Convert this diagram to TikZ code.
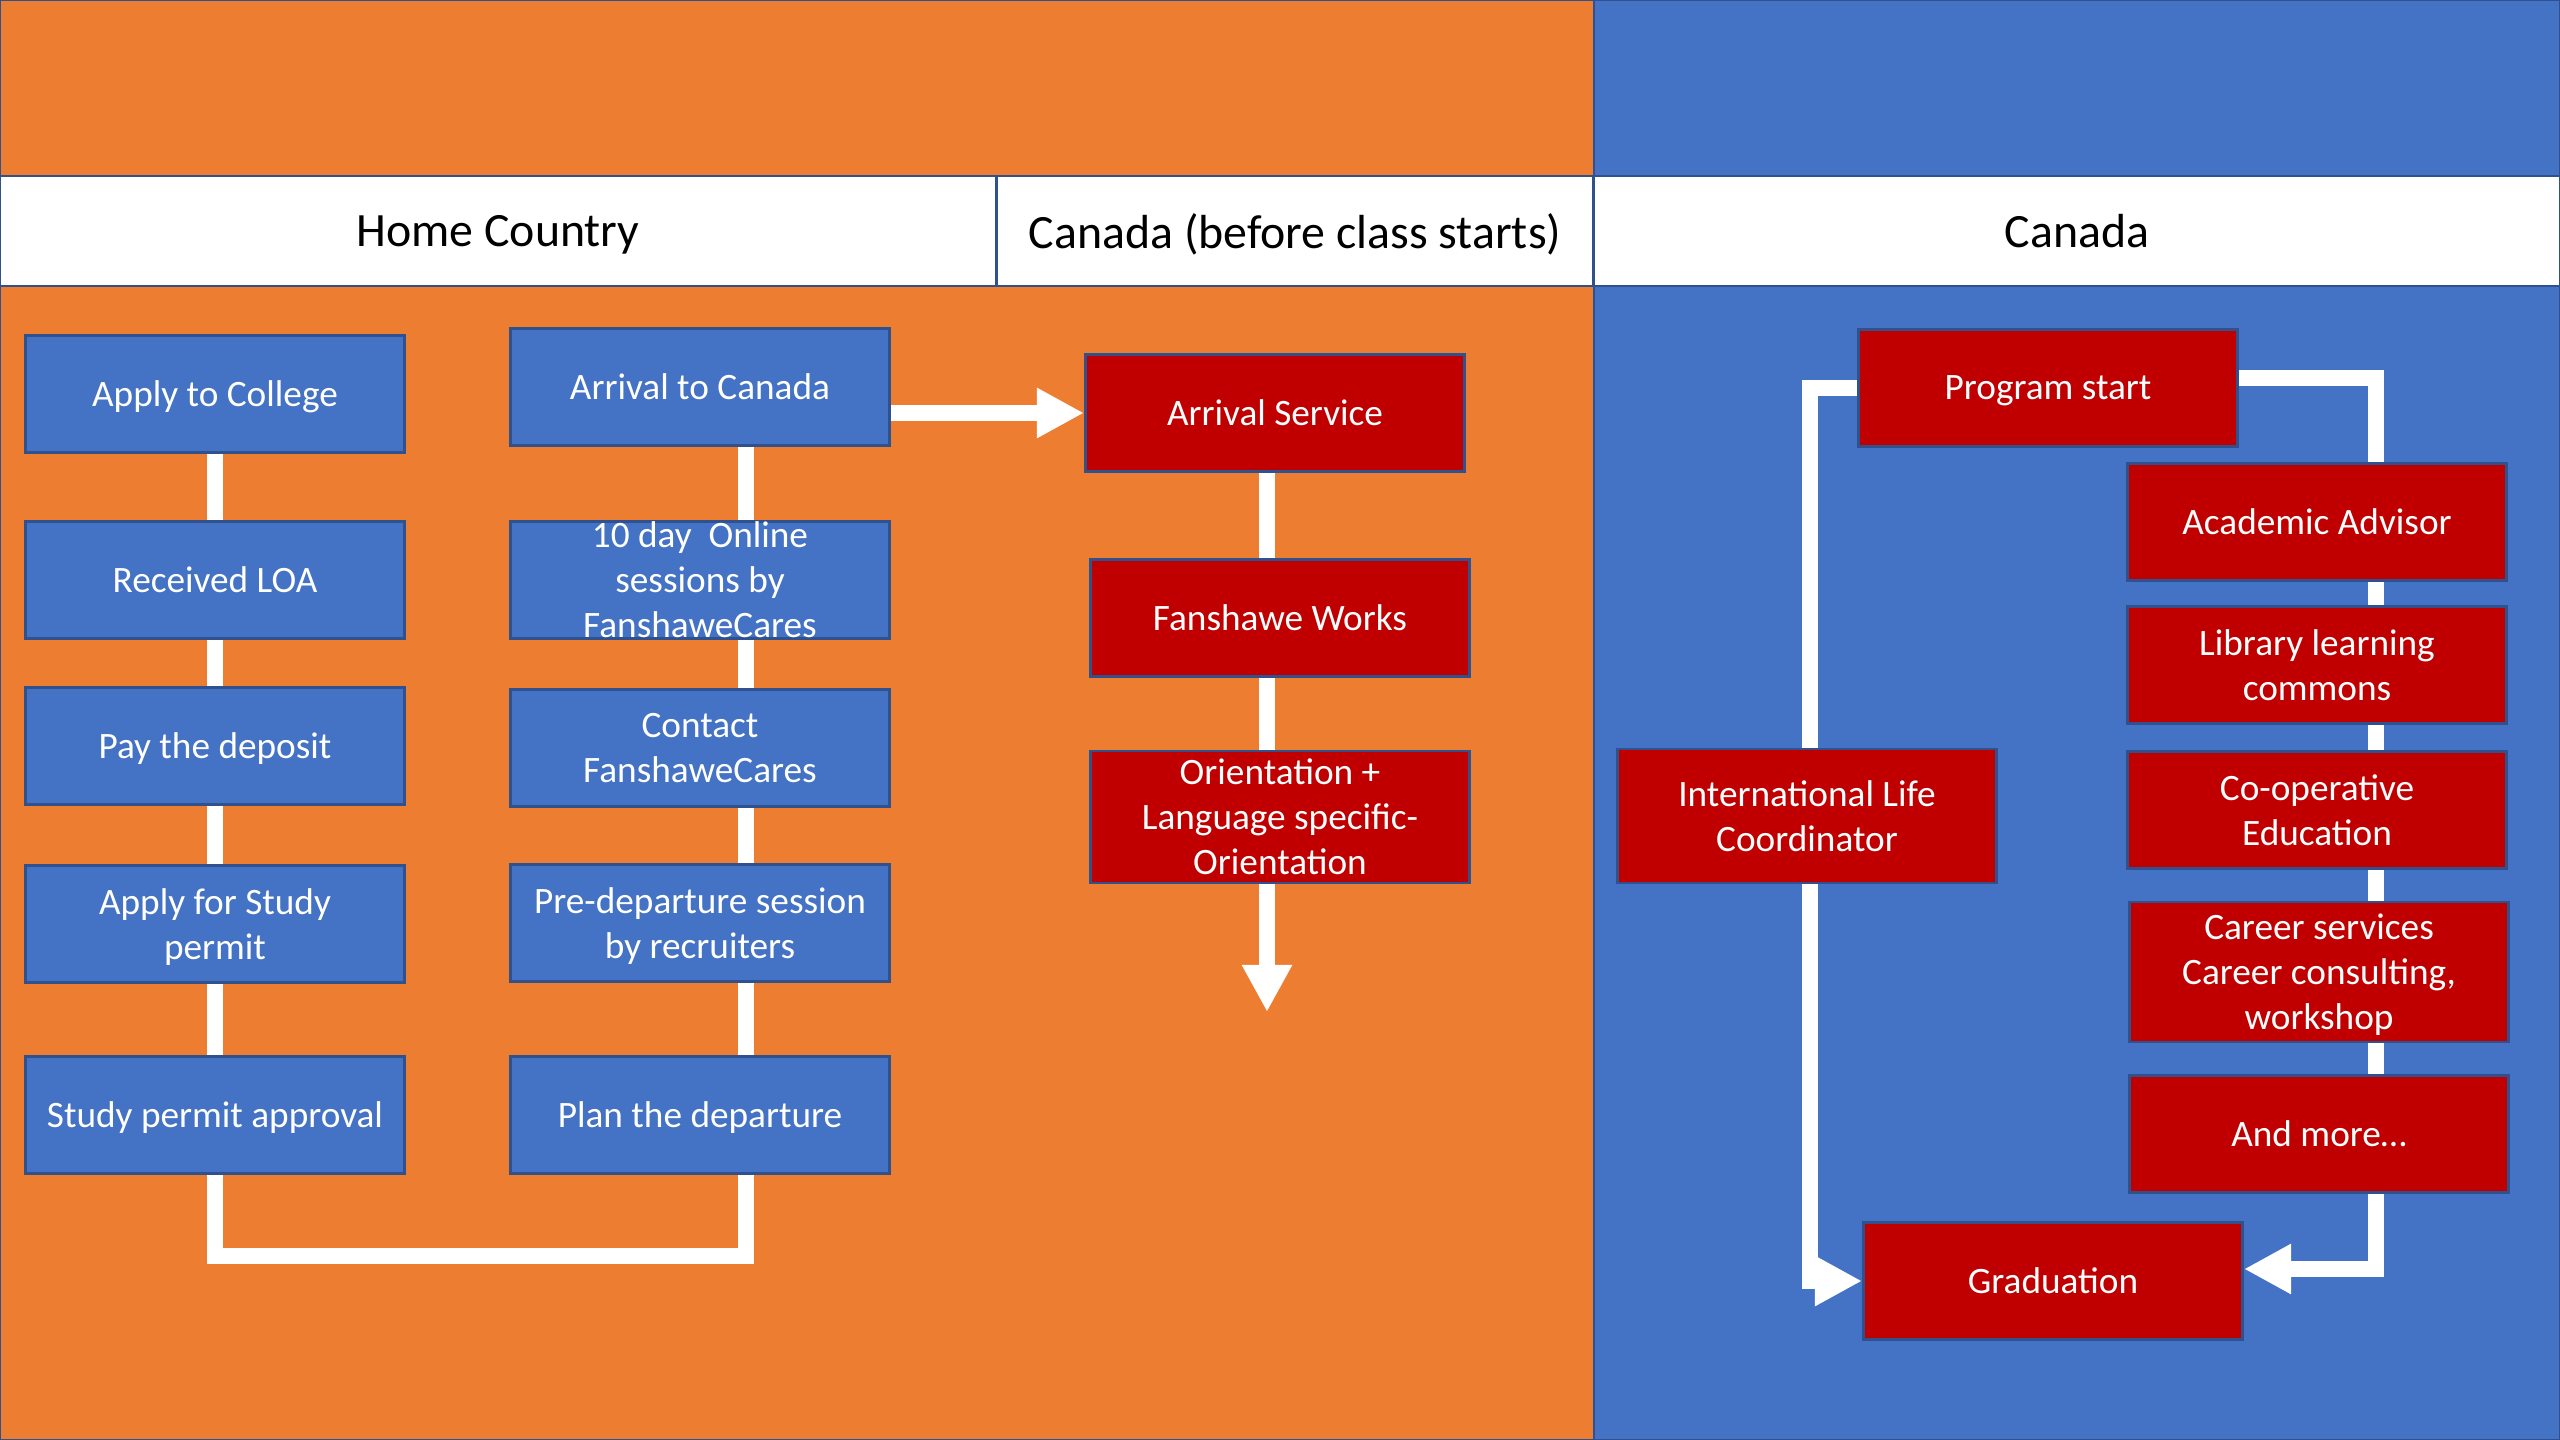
\documentclass[tikz,border=0pt]{standalone}
\usepackage{fontspec}
\setmainfont{Carlito}
\usepackage[]{xcolor}
\usetikzlibrary{arrows.meta,backgrounds}

\definecolor{fanorange}{HTML}{ED7D31}
\definecolor{fanblue}{HTML}{4472C4}
\definecolor{fanred}{HTML}{C00000}
\definecolor{edgeblue}{HTML}{2F528F}

\begin{document}
\begin{tikzpicture}[
            x=0.01cm, y=-0.01cm,
            header/.style={rectangle, draw=edgeblue, line width=0.8pt, fill=white, inner sep=0pt, minimum height=1.10cm, text depth=0pt, font=\fontsize{13.6}{16}\selectfont},
            bluestep/.style={rectangle, draw=edgeblue, line width=0.8pt, fill=fanblue, text=white, minimum width=3.79cm, minimum height=1.176cm, inner sep=0pt, align=center, text depth=0pt, font=\fontsize{10.6}{12.8}\selectfont},
            redstep/.style={bluestep, fill=fanred},
            link/.style={draw=white, line width=4.6pt},
            arrow/.style={link, -{Triangle[length=13.4pt, width=13.4pt]}}
        ]
            \useasboundingbox (0,0) rectangle (2560,1440);
            \begin{scope}[on background layer]
                \path[draw=edgeblue, line width=0.8pt, fill=fanorange] (0,0) rectangle (1594,1440);
                \path[draw=edgeblue, line width=0.8pt, fill=fanblue] (1594,0) rectangle (2560,1440);
            \end{scope}

            % headers
            \node[header, minimum width=9.96cm] (home) at (498,231) {Home Country};
            \node[header, minimum width=5.96cm] (before) at (1295,231) {Canada (before class starts)};
            \node[header, minimum width=9.66cm] (canada) at (2077,231) {Canada};

            % home country
            \node[bluestep] (apply) at (215,394) {Apply to College};
            \node[bluestep] (loa) at (215,580) {Received LOA};
            \node[bluestep] (deposit) at (215,746) {Pay the deposit};
            \node[bluestep] (permit) at (215,924) {Apply for Study\\permit};
            \node[bluestep] (approval) at (215,1115) {Study permit approval};

            \node[bluestep] (arrive) at (700,387) {Arrival to Canada};
            \node[bluestep] (online) at (700,580) {10 day~ Online\\sessions by\\FanshaweCares};
            \node[bluestep] (contact) at (700,748) {Contact\\FanshaweCares};
            \node[bluestep] (predep) at (700,923) {Pre-departure session\\by recruiters};
            \node[bluestep] (plan) at (700,1115) {Plan the departure};

            % before class starts
            \node[redstep] (arrsvc) at (1275,413) {Arrival Service};
            \node[redstep] (works) at (1280,618) {Fanshawe Works};
            \node[redstep, minimum height=1.32cm] (orient) at (1280,817) {Orientation +\\Language specific-\\Orientation};

            % canada
            \node[redstep] (prog) at (2048,388) {Program start};
            \node[redstep] (advisor) at (2317,522) {Academic Advisor};
            \node[redstep] (library) at (2317,665) {Library learning\\commons};
            \node[redstep] (coop) at (2317,810) {Co-operative\\Education};
            \node[redstep, minimum height=1.40cm] (career) at (2319,972) {Career services\\Career consulting,\\workshop};
            \node[redstep] (more) at (2319,1134) {And more…};
            \node[redstep, minimum height=1.34cm] (ilc) at (1807,816) {International Life\\Coordinator};
            \node[redstep] (grad) at (2053,1281) {Graduation};

            \coordinate (ubot) at (746,1256);
            \coordinate (midend) at (1267,1012);
            \coordinate (lft) at (1810,0);
            \coordinate (rtop) at (2376,378);
            \coordinate (rbot) at (2376,1269);

            \begin{scope}[on background layer]
                \draw[link] (apply.center) -- (approval.center) |- (ubot) -- (ubot |- arrive.center);
                \draw[arrow] (arrive.east |- arrsvc.west) -- (arrsvc.west);
                \draw[arrow] (arrsvc.center -| midend) -- (midend);
                \draw[arrow] (prog.center) -- (prog.center -| lft) |- (grad.west);
                \draw[arrow] (prog.center |- rtop) -- (rtop) -- (rbot) -- (rbot -| grad.east);
            \end{scope}
        \end{tikzpicture}
\end{document}
